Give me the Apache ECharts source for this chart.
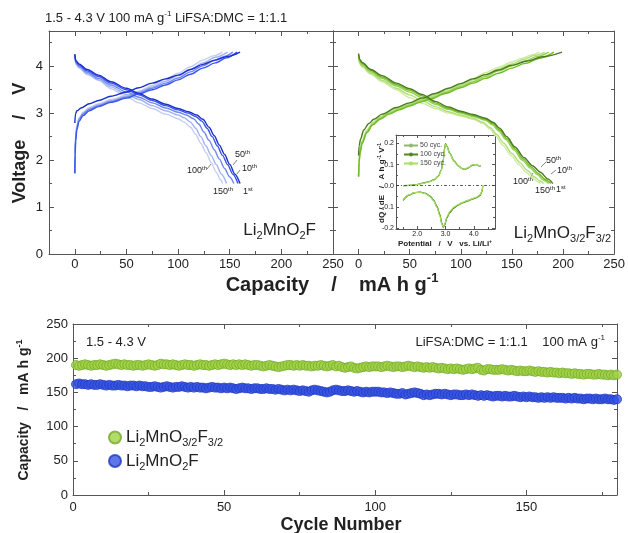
<!DOCTYPE html>
<html>
<head>
<meta charset="utf-8">
<script src="https://cdn.jsdelivr.net/npm/echarts@6/dist/echarts.min.js"></script>
<style>
html, body { margin: 0; padding: 0; background: #fff; }
#main { width: 628px; height: 533px; }
</style>
</head>
<body>
<div id="main"></div>
<script>
// ---- Li2MnO2F voltage profiles  [capacity mAh/g, voltage V]
var mnfCh1 = [[0,2.79],[0.6,2.98],[2,3.05],[6,3.11],[14,3.2],[23,3.27],[35,3.36],[50,3.45],[62,3.54],[75,3.64],[88,3.73],[100,3.81],[112,3.93],[124,4.04],[136,4.13],[148,4.21],[160,4.3]];
var mnfCh10 = [[0,1.72],[0.3,2.1],[0.8,2.4],[2,2.65],[4,2.82],[8,2.95],[14,3.05],[23,3.14],[35,3.23],[50,3.32],[62,3.41],[75,3.5],[88,3.6],[100,3.71],[112,3.83],[124,3.96],[136,4.07],[147,4.18],[157,4.3]];
var mnfCh50 = [[0,1.72],[0.3,2.15],[0.8,2.45],[2,2.68],[4,2.85],[8,2.98],[14,3.08],[23,3.16],[35,3.25],[50,3.34],[62,3.43],[75,3.53],[88,3.64],[100,3.75],[112,3.88],[124,4.01],[136,4.13],[145,4.21],[153,4.3]];
var mnfCh100 = [[0,1.72],[0.3,2.2],[0.8,2.5],[2,2.72],[4,2.88],[8,3.0],[14,3.1],[23,3.18],[35,3.27],[50,3.36],[62,3.45],[75,3.56],[88,3.68],[100,3.8],[112,3.93],[124,4.07],[136,4.19],[148,4.3]];
var mnfCh150 = [[0,1.72],[0.3,2.25],[0.8,2.55],[2,2.75],[4,2.9],[8,3.02],[14,3.12],[23,3.2],[35,3.29],[50,3.38],[62,3.47],[75,3.59],[88,3.72],[100,3.85],[112,3.99],[124,4.13],[134,4.22],[143,4.3]];
var mnfDis1 = [[0,4.26],[1,4.12],[4,4.05],[12,3.93],[23,3.81],[35,3.67],[50,3.53],[62,3.42],[75,3.3],[88,3.19],[100,3.1],[110,3.03],[118,2.96],[124,2.87],[130,2.7],[135,2.52],[140,2.32],[145,2.12],[150,1.91],[155,1.7],[160,1.5]];
var mnfDis10 = [[0,4.24],[1,4.1],[4,4.03],[12,3.9],[23,3.78],[35,3.64],[50,3.5],[62,3.39],[75,3.27],[88,3.16],[100,3.07],[110,3.0],[117,2.93],[123,2.83],[128,2.68],[133,2.5],[138,2.3],[143,2.1],[148,1.9],[153,1.7],[158,1.5]];
var mnfDis50 = [[0,4.23],[1,4.08],[4,4.0],[12,3.87],[23,3.74],[35,3.6],[50,3.45],[62,3.34],[75,3.22],[88,3.11],[100,3.02],[108,2.96],[115,2.88],[120,2.77],[125,2.6],[130,2.42],[135,2.22],[140,2.02],[145,1.82],[150,1.64],[154,1.5]];
var mnfDis100 = [[0,4.22],[1,4.06],[4,3.98],[12,3.84],[23,3.71],[35,3.56],[50,3.4],[62,3.29],[75,3.16],[88,3.05],[100,2.96],[106,2.9],[112,2.81],[117,2.68],[122,2.5],[127,2.3],[132,2.1],[137,1.9],[142,1.7],[147,1.5]];
var mnfDis150 = [[0,4.2],[1,4.04],[4,3.96],[12,3.82],[23,3.7],[35,3.52],[50,3.35],[62,3.22],[75,3.1],[88,2.98],[100,2.88],[106,2.81],[112,2.7],[117,2.55],[122,2.36],[127,2.16],[132,1.95],[137,1.74],[141,1.58],[143,1.5]];

// ---- Li2MnO3/2F3/2 voltage profiles
var mofCh1 = [[0,2.1],[0.5,2.3],[2,2.45],[5,2.64],[10,2.78],[15,2.87],[23,2.98],[37,3.12],[50,3.22],[62,3.32],[75,3.42],[88,3.53],[100,3.63],[112,3.73],[124,3.82],[137,3.92],[150,4.02],[165,4.11],[180,4.2],[199,4.3]];
var mofCh10 = [[0,1.65],[0.5,1.95],[1.5,2.15],[3.5,2.35],[8,2.58],[14,2.75],[21,2.87],[30,2.98],[40,3.07],[50,3.15],[60,3.23],[70,3.3],[85,3.42],[100,3.54],[112,3.64],[124,3.74],[137,3.85],[150,3.96],[163,4.06],[177,4.17],[191,4.3]];
var mofCh50 = [[0,1.65],[0.5,1.98],[1.5,2.18],[3.5,2.38],[8,2.6],[14,2.77],[21,2.89],[30,3.0],[40,3.09],[50,3.17],[60,3.25],[70,3.32],[85,3.44],[100,3.57],[112,3.67],[124,3.78],[137,3.9],[150,4.01],[163,4.11],[175,4.21],[186,4.3]];
var mofCh100 = [[0,1.65],[0.5,2.0],[1.5,2.2],[3.5,2.4],[8,2.62],[14,2.79],[21,2.91],[30,3.02],[40,3.11],[50,3.19],[60,3.27],[70,3.35],[85,3.47],[100,3.6],[112,3.71],[124,3.82],[137,3.94],[150,4.05],[162,4.15],[172,4.23],[182,4.3]];
var mofCh150 = [[0,1.65],[0.5,2.02],[1.5,2.22],[3.5,2.42],[8,2.64],[14,2.81],[21,2.93],[30,3.04],[40,3.13],[50,3.21],[60,3.29],[70,3.37],[85,3.5],[100,3.63],[112,3.74],[124,3.86],[137,3.98],[150,4.09],[160,4.17],[169,4.24],[177,4.3]];
var mofDis1 = [[0,4.27],[1,4.15],[3.5,4.08],[12,3.93],[23,3.8],[37,3.64],[50,3.52],[62,3.4],[75,3.25],[88,3.13],[100,3.04],[112,2.97],[124,2.89],[132,2.8],[138,2.68],[145,2.5],[153,2.28],[162,2.05],[170,1.88],[178,1.74],[185,1.6],[190,1.5]];
var mofDis10 = [[0,4.25],[1,4.13],[3.5,4.06],[12,3.91],[23,3.77],[37,3.61],[50,3.49],[62,3.37],[75,3.22],[88,3.1],[100,3.02],[112,2.95],[124,2.87],[132,2.77],[138,2.64],[145,2.46],[153,2.24],[161,2.02],[169,1.85],[176,1.71],[183,1.58],[188,1.5]];
var mofDis50 = [[0,4.24],[1,4.1],[3.5,4.03],[12,3.88],[23,3.74],[37,3.58],[50,3.45],[62,3.33],[75,3.19],[88,3.08],[100,3.0],[112,2.93],[124,2.85],[131,2.75],[137,2.62],[144,2.44],[152,2.22],[160,2.0],[168,1.83],[175,1.69],[181,1.57],[186,1.5]];
var mofDis100 = [[0,4.22],[1,4.07],[3.5,4.0],[12,3.85],[23,3.7],[37,3.53],[50,3.39],[62,3.27],[75,3.14],[88,3.03],[100,2.96],[112,2.89],[122,2.8],[129,2.69],[135,2.55],[142,2.36],[150,2.14],[158,1.94],[165,1.78],[172,1.64],[177,1.56],[181,1.5]];
var mofDis150 = [[0,4.2],[1,4.05],[3.5,3.98],[12,3.83],[23,3.67],[37,3.5],[50,3.33],[62,3.21],[75,3.1],[88,3.0],[100,2.94],[112,2.87],[122,2.78],[128,2.67],[134,2.52],[141,2.32],[149,2.1],[157,1.9],[164,1.74],[170,1.62],[175,1.54],[178,1.5]];

// ---- inset dQ/dE  [potential V, A h/g/V]
var dqCh50 = [[1.5,0],[1.8,0.002],[2.0,0.005],[2.2,0.012],[2.4,0.018],[2.6,0.028],[2.75,0.045],[2.85,0.075],[2.92,0.125],[2.97,0.18],[3.0,0.2],[3.05,0.188],[3.15,0.155],[3.3,0.118],[3.45,0.095],[3.58,0.082],[3.68,0.078],[3.8,0.085],[3.95,0.097],[4.08,0.101],[4.18,0.095],[4.25,0.095]];
var dqCh100 = [[1.5,0],[1.8,0.002],[2.0,0.006],[2.2,0.013],[2.4,0.019],[2.6,0.029],[2.75,0.046],[2.85,0.073],[2.92,0.12],[2.97,0.176],[3.0,0.197],[3.05,0.186],[3.15,0.153],[3.3,0.117],[3.45,0.094],[3.58,0.081],[3.68,0.077],[3.8,0.084],[3.95,0.096],[4.08,0.1],[4.18,0.094],[4.25,0.094]];
var dqCh150 = [[1.5,0],[1.8,0.002],[2.0,0.005],[2.2,0.011],[2.4,0.017],[2.6,0.027],[2.75,0.044],[2.85,0.072],[2.92,0.118],[2.97,0.172],[3.0,0.195],[3.05,0.185],[3.15,0.152],[3.3,0.116],[3.45,0.094],[3.58,0.081],[3.68,0.078],[3.8,0.086],[3.95,0.098],[4.08,0.1],[4.18,0.095],[4.25,0.096]];
var dqDis50 = [[4.32,0],[4.28,-0.03],[4.22,-0.045],[4.1,-0.055],[3.95,-0.062],[3.8,-0.07],[3.6,-0.08],[3.45,-0.09],[3.3,-0.103],[3.15,-0.125],[3.05,-0.15],[2.97,-0.185],[2.92,-0.198],[2.87,-0.18],[2.8,-0.14],[2.7,-0.1],[2.58,-0.07],[2.45,-0.05],[2.3,-0.037],[2.1,-0.03],[1.9,-0.033],[1.7,-0.045],[1.5,-0.068]];
var dqDis100 = [[4.32,0],[4.28,-0.032],[4.22,-0.047],[4.1,-0.057],[3.95,-0.064],[3.8,-0.072],[3.6,-0.082],[3.45,-0.092],[3.3,-0.106],[3.15,-0.128],[3.05,-0.153],[2.97,-0.188],[2.92,-0.196],[2.87,-0.176],[2.8,-0.135],[2.7,-0.097],[2.58,-0.068],[2.45,-0.049],[2.3,-0.036],[2.1,-0.03],[1.9,-0.034],[1.7,-0.046],[1.5,-0.07]];
var dqDis150 = [[4.32,0],[4.28,-0.028],[4.22,-0.043],[4.1,-0.054],[3.95,-0.061],[3.8,-0.069],[3.6,-0.079],[3.45,-0.089],[3.3,-0.101],[3.15,-0.122],[3.05,-0.147],[2.97,-0.182],[2.92,-0.194],[2.87,-0.182],[2.8,-0.143],[2.7,-0.103],[2.58,-0.072],[2.45,-0.052],[2.3,-0.038],[2.1,-0.031],[1.9,-0.032],[1.7,-0.044],[1.5,-0.066]];

// ---- cycling, discharge capacity per cycle (cycle 1..180)
var capMOF = [
  190,189,190,191,190,189,190,190,191,190,189,190,191,192,191,190,191,190,190,189,
  190,190,189,190,191,190,189,190,192,191,191,190,191,190,189,190,191,190,190,189,
  190,191,190,190,189,190,191,190,191,192,191,190,191,190,191,190,191,190,189,190,
  190,189,188,189,190,189,188,187,188,189,190,190,189,190,189,190,189,189,188,189,
  189,190,189,188,189,190,188,189,187,186,187,188,186,185,186,187,188,187,188,188,
  188,187,188,189,188,187,188,188,187,188,189,188,187,188,187,186,187,186,187,186,
  185,186,185,184,185,184,185,184,183,184,185,184,185,186,183,182,184,184,183,183,
  183,184,183,182,183,182,181,182,181,181,182,181,180,181,180,180,179,180,179,179,
  178,179,178,178,177,178,177,177,176,177,177,176,176,177,176,176,175,176,175,176
];
var capMNF = [
  162,163,162,162,161,162,161,161,162,161,160,161,160,160,161,160,160,159,160,160,
  159,160,159,159,158,158,159,158,157,158,159,158,157,158,158,159,158,157,158,157,
  158,157,157,156,157,158,157,157,156,157,156,157,156,155,156,157,156,156,155,156,
  156,155,155,156,155,155,154,155,154,153,154,153,154,153,152,153,152,151,153,154,
  153,152,151,150,151,153,154,153,152,152,153,152,151,152,151,150,151,150,151,151,
  151,150,150,149,150,149,148,148,149,147,148,149,150,149,148,146,147,146,147,148,
  148,147,148,147,146,147,147,146,146,147,146,147,146,145,146,145,146,145,144,145,
  145,144,145,144,144,145,144,143,144,143,144,143,143,142,143,142,143,142,143,142,
  142,142,141,142,141,142,141,141,140,141,141,140,141,140,140,141,140,140,139,140
];

var FONT = '"Liberation Sans", Arial, sans-serif';
var AX = '#555';
var TXT = '#222';

// text styles with sub / superscript pieces
function rich(size, weight, color) {
  var c = color || TXT, w = weight || 'normal', s2 = Math.round(size * 0.65);
  return {
    n: { fontSize: size, fontWeight: w, fontFamily: FONT, color: c, fill: c, lineHeight: Math.round(size * 1.3) },
    b: { fontSize: s2, fontWeight: w, fontFamily: FONT, color: c, fill: c, lineHeight: s2, verticalAlign: 'bottom' },
    p: { fontSize: s2, fontWeight: w, fontFamily: FONT, color: c, fill: c, lineHeight: s2, verticalAlign: 'top' }
  };
}

var xAxes = [], yAxes = [];
// framed axes: main side with labels + opposite side, each with major and minor ticks
function addAxes(list, grid, sides, min, max, major, minor, o) {
  var first = list.length;
  sides.forEach(function (pos, k) {
    var lab = { show: false };
    if (k === 0 && o.labels) {
      lab = { show: true, customValues: major, fontSize: o.size, color: TXT, fontFamily: FONT, margin: o.margin };
      if (o.fmt) lab.formatter = o.fmt;
    }
    list.push({
      type: 'value', gridIndex: grid, position: pos, min: min, max: max,
      axisLine: { show: true, onZero: false, lineStyle: { color: AX, width: 1 } },
      axisTick: { show: true, inside: true, length: o.tick, customValues: major, lineStyle: { color: AX } },
      axisLabel: lab,
      splitLine: { show: false }
    });
    list.push({
      type: 'value', gridIndex: grid, position: pos, min: min, max: max,
      axisLine: { show: false, onZero: false },
      axisTick: { show: true, inside: true, length: o.minor, customValues: minor, lineStyle: { color: AX } },
      axisLabel: { show: false },
      splitLine: { show: false }
    });
  });
  return first;
}

var capTicks = [0, 50, 100, 150, 200, 250], capMinor = [25, 75, 125, 175, 225];
var vTicks = [0, 1, 2, 3, 4], vMinor = [0.5, 1.5, 2.5, 3.5, 4.5];
var xL = addAxes(xAxes, 0, ['bottom', 'top'], -25, 250, capTicks, capMinor, { labels: true, size: 13, margin: 4, tick: 5, minor: 3 });
var yL = addAxes(yAxes, 0, ['left', 'right'], 0, 4.75, vTicks, vMinor, { labels: true, size: 13, margin: 6, tick: 5, minor: 3 });
var xR = addAxes(xAxes, 1, ['bottom', 'top'], -25, 250, capTicks, capMinor, { labels: true, size: 13, margin: 4, tick: 5, minor: 3 });
var yR = addAxes(yAxes, 1, ['left', 'right'], 0, 4.75, vTicks, vMinor, { labels: false, tick: 5, minor: 3 });
var fmt1 = function (v) { return v.toFixed(1); };
var xI = addAxes(xAxes, 2, ['bottom', 'top'], 1.25, 4.75, [2, 3, 4], [1.5, 2.5, 3.5, 4.5], { labels: true, size: 7, margin: 2, tick: 3, minor: 2, fmt: fmt1 });
var yI = addAxes(yAxes, 2, ['left', 'right'], -0.205, 0.24, [-0.2, -0.1, 0, 0.1, 0.2], [-0.15, -0.05, 0.05, 0.15], { labels: true, size: 7, margin: 2, tick: 3, minor: 2, fmt: fmt1 });
var xB = addAxes(xAxes, 3, ['bottom', 'top'], 0, 180, [0, 50, 100, 150], [25, 75, 125, 175], { labels: true, size: 13, margin: 6, tick: 5, minor: 3 });
var yB = addAxes(yAxes, 3, ['left', 'right'], 0, 250, [0, 50, 100, 150, 200, 250], [25, 75, 125, 175, 225], { labels: true, size: 13, margin: 5, tick: 5, minor: 3 });

function curve(name, data, color, xi, yi, w) {
  return {
    name: name, type: 'line', data: data, xAxisIndex: xi, yAxisIndex: yi,
    symbol: 'none', showSymbol: false, smooth: 0.3, smoothMonotone: 'x',
    lineStyle: { color: color, width: w || 1.4 }, itemStyle: { color: color },
    silent: true
  };
}

var blue = { c150: '#c4cdf3', c100: '#a2b2f0', c50: '#6f87ee', c10: '#3b55e8', c1: '#1b30cf' };
var green = { c150: '#cdeba3', c100: '#b1de78', c50: '#94cf4e', c10: '#6fbb2c', c1: '#4c7a1e' };
var inset = { c50: '#8fb96e', c100: '#4f8a1f', c150: '#a7e062' };

var series = [
  curve('mnf ch 150', mnfCh150, blue.c150, xL, yL), curve('mnf dis 150', mnfDis150, blue.c150, xL, yL),
  curve('mnf ch 100', mnfCh100, blue.c100, xL, yL), curve('mnf dis 100', mnfDis100, blue.c100, xL, yL),
  curve('mnf ch 50', mnfCh50, blue.c50, xL, yL), curve('mnf dis 50', mnfDis50, blue.c50, xL, yL),
  curve('mnf ch 10', mnfCh10, blue.c10, xL, yL), curve('mnf dis 10', mnfDis10, blue.c10, xL, yL),
  curve('mnf ch 1', mnfCh1, blue.c1, xL, yL), curve('mnf dis 1', mnfDis1, blue.c1, xL, yL),

  curve('mof ch 150', mofCh150, green.c150, xR, yR), curve('mof dis 150', mofDis150, green.c150, xR, yR),
  curve('mof ch 100', mofCh100, green.c100, xR, yR), curve('mof dis 100', mofDis100, green.c100, xR, yR),
  curve('mof ch 50', mofCh50, green.c50, xR, yR), curve('mof dis 50', mofDis50, green.c50, xR, yR),
  curve('mof ch 10', mofCh10, green.c10, xR, yR), curve('mof dis 10', mofDis10, green.c10, xR, yR),
  curve('mof ch 1', mofCh1, green.c1, xR, yR), curve('mof dis 1', mofDis1, green.c1, xR, yR)
];

var dq50 = curve('50 cyc.', dqCh50, inset.c50, xI, yI, 1.3);
dq50.markLine = {
  silent: true, symbol: 'none', animation: false,
  label: { show: false },
  lineStyle: { color: '#333', width: 0.8, type: [3, 2, 1, 2] },
  data: [{ yAxis: 0 }]
};
series.push(dq50,
  curve('50 cyc.', dqDis50, inset.c50, xI, yI, 1.3),
  curve('100 cyc.', dqCh100, inset.c100, xI, yI, 1.1),
  curve('100 cyc.', dqDis100, inset.c100, xI, yI, 1.1),
  curve('150 cyc.', dqCh150, inset.c150, xI, yI, 1.1),
  curve('150 cyc.', dqDis150, inset.c150, xI, yI, 1.1));

function cyclePairs(vals) {
  return vals.map(function (v, i) { return [i + 1, v]; });
}
series.push({
  name: 'Li2MnO3/2F3/2', type: 'scatter', data: cyclePairs(capMOF), xAxisIndex: xB, yAxisIndex: yB,
  symbol: 'circle', symbolSize: 9, silent: true,
  itemStyle: { color: '#a0d243', borderColor: '#74aa2b', borderWidth: 1 }
}, {
  name: 'Li2MnO2F', type: 'scatter', data: cyclePairs(capMNF), xAxisIndex: xB, yAxisIndex: yB,
  symbol: 'circle', symbolSize: 9, silent: true,
  itemStyle: { color: '#3554e4', borderColor: '#2238bf', borderWidth: 1 }
});

function txt(x, y, text, r, align, rot) {
  return {
    type: 'text', x: x, y: y, rotation: rot || 0, silent: true,
    style: { text: text, rich: r, align: align || 'left', textAlign: align || 'left', verticalAlign: 'middle', textVerticalAlign: 'middle' }
  };
}
var r13 = rich(13), r17 = rich(17), r9 = rich(9), r8b = rich(8, 'bold');
var r18b = rich(18, 'bold'), r20b = rich(20, 'bold'), r14b = rich(14, 'bold');

function pointer(x1, y1, x2, y2) {
  return { type: 'line', silent: true, shape: { x1: x1, y1: y1, x2: x2, y2: y2 }, style: { stroke: '#666', lineWidth: 0.8 } };
}

var graphics = [
  txt(45, 18, '{n|1.5 - 4.3 V 100 mA g}{p|-1}{n| LiFSA:DMC = 1:1.1}', r13),
  txt(20, 143, '{n|Voltage    /    V}', r18b, 'center', Math.PI / 2),
  txt(332, 285, '{n|Capacity    /    mA h g}{p|-1}', r20b, 'center'),
  txt(316, 230, '{n|Li}{b|2}{n|MnO}{b|2}{n|F}', r17, 'right'),
  txt(611, 233, '{n|Li}{b|2}{n|MnO}{b|3/2}{n|F}{b|3/2}', r17, 'right'),
  // cycle markers, left panel
  txt(235, 155, '{n|50}{p|th}', r9), txt(242, 169, '{n|10}{p|th}', r9),
  txt(187, 171, '{n|100}{p|th}', r9), txt(213, 192, '{n|150}{p|th}', r9), txt(243, 192, '{n|1}{p|st}', r9),
  pointer(233, 165, 237, 160), pointer(237, 174, 240, 170), pointer(207, 169, 211, 164),
  // cycle markers, right panel
  txt(546, 161, '{n|50}{p|th}', r9), txt(557, 171, '{n|10}{p|th}', r9),
  txt(513, 182, '{n|100}{p|th}', r9), txt(535, 191, '{n|150}{p|th}', r9), txt(556, 190, '{n|1}{p|st}', r9),
  pointer(541, 167, 546, 162), pointer(551, 174, 556, 170), pointer(530, 178, 533, 173),
  // inset titles
  txt(382, 183, '{n|dQ / dE   /   A h g}{p|-1}{n| V}{p|-1}', r8b, 'center', Math.PI / 2),
  txt(445, 244, '{n|Potential   /   V   vs. Li/Li}{p|+}', r8b, 'center'),
  // cycling panel
  txt(86, 342, '{n|1.5 - 4.3 V}', r13),
  txt(605, 342, '{n|LiFSA:DMC = 1:1.1    100 mA g}{p|-1}', r13, 'right'),
  txt(24, 410, '{n|Capacity   /   mA h g}{p|-1}', r14b, 'center', Math.PI / 2),
  txt(341, 525, '{n|Cycle Number}', r18b, 'center')
];

var chart = echarts.init(document.getElementById('main'), null, { renderer: 'canvas' });
chart.setOption({
  animation: false,
  backgroundColor: '#fff',
  textStyle: { fontFamily: FONT },
  grid: [
    { left: 49, top: 31, width: 284, height: 223 },
    { left: 333, top: 31, width: 283, height: 223 },
    { left: 396, top: 135, width: 99, height: 94 },
    { left: 73, top: 324, width: 544, height: 171 }
  ],
  xAxis: xAxes,
  yAxis: yAxes,
  legend: [{
    data: ['Li2MnO3/2F3/2', 'Li2MnO2F'],
    orient: 'vertical', left: 103, top: 424, itemWidth: 12, itemHeight: 12, itemGap: 4, icon: 'circle',
    selectedMode: false,
    formatter: function (name) {
      return name === 'Li2MnO2F' ? '{n|Li}{b|2}{n|MnO}{b|2}{n|F}' : '{n|Li}{b|2}{n|MnO}{b|3/2}{n|F}{b|3/2}';
    },
    textStyle: { rich: rich(17) }
  }, {
    data: ['50 cyc.', '100 cyc.', '150 cyc.'],
    orient: 'vertical', left: 398, top: 137, itemWidth: 14, itemHeight: 5, itemGap: 2,
    selectedMode: false,
    textStyle: { fontSize: 7, color: '#444', fontFamily: FONT, padding: [0, 0, 0, -3] }
  }],
  series: series,
  graphic: { elements: graphics }
});
</script>
</body>
</html>
